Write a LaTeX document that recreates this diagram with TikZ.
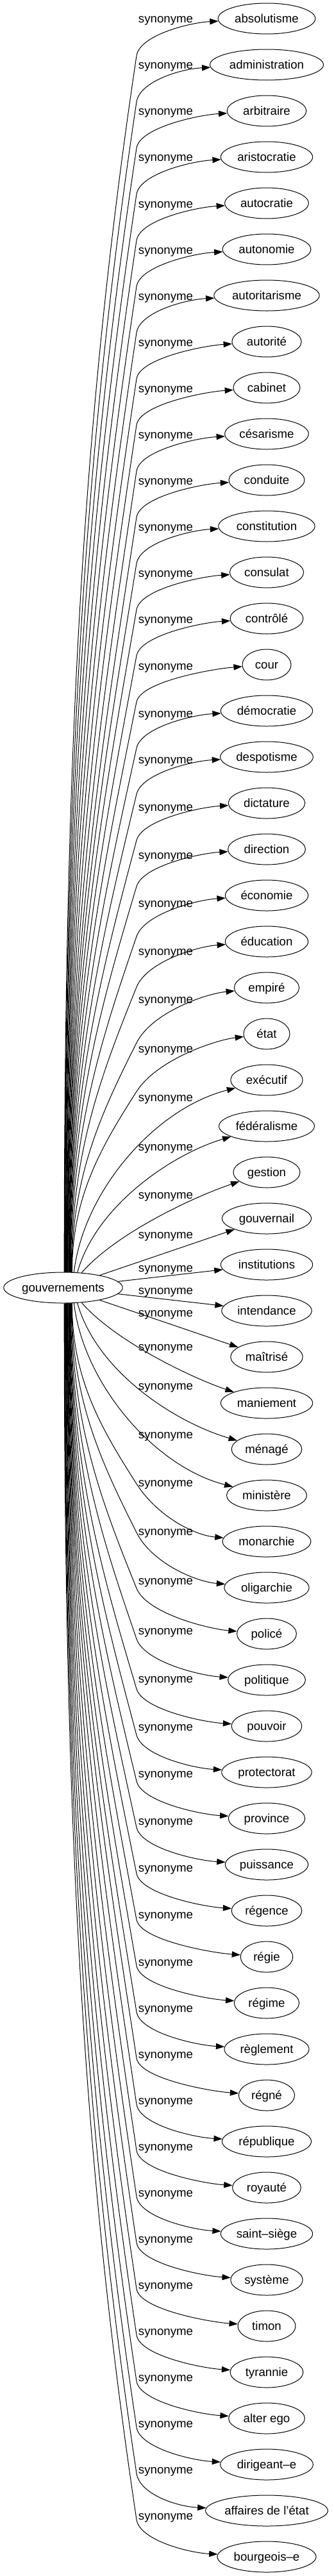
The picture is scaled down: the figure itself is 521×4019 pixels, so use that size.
\documentclass[tikz,border=0pt]{standalone}
\usepackage{fontspec}
\setmainfont{Liberation Sans}
\newfontfamily\gvserif{Liberation Serif}
\usetikzlibrary{shapes.geometric,arrows.meta,calc}
\newlength\gvlen
\newcommand\gvt[1]{\settowidth\gvlen{\gvserif #1}\makebox[0.957\gvlen][c]{#1}}
\tikzset{
  gvnode/.style={draw, ellipse, line width=0.75pt, font=\fontsize{14}{16}\selectfont,
    inner xsep=8.24pt, inner ysep=0pt, minimum width=54pt, minimum height=36pt,
    text height=9.5pt, text depth=0.5pt},
  gvlab/.style={font=\fontsize{14}{16}\selectfont, inner sep=0pt, text height=9.5pt, text depth=0.5pt},
  gvedge/.style={draw, line width=0.75pt, -{Triangle[length=10pt,width=7pt]}}
}
\begin{document}
\begin{tikzpicture}[x=0.75pt,y=-0.75pt]
\useasboundingbox (0,0) rectangle (521,4019);
\node[gvnode] (g) at (98.5,2009) {\gvt{gouvernements}};
\foreach \i/\nm in {1/absolutisme,2/administration,3/arbitraire,4/aristocratie,5/autocratie,
  6/autonomie,7/autoritarisme,8/autorité,9/cabinet,10/césarisme,11/conduite,12/constitution,
  13/consulat,14/contrôlé,15/cour,16/démocratie,17/despotisme,18/dictature,19/direction,
  20/économie,21/éducation,22/empiré,23/état,24/exécutif,25/fédéralisme,26/gestion,
  27/gouvernail,28/institutions,29/intendance,30/maîtrisé,31/maniement,32/ménagé,
  33/ministère,34/monarchie,35/oligarchie,36/policé,37/politique,38/pouvoir,39/protectorat,
  40/province,41/puissance,42/régence,43/régie,44/régime,45/règlement,46/régné,
  47/république,48/royauté,49/saint–siège,50/système,51/timon,52/tyrannie,53/alter ego,
  54/dirigeant–e,55/affaires de l'état,56/bourgeois–e}{
  \node[gvnode] (n\i) at (416,{29+72*(\i-1)}) {\gvt{\nm}};
}
\foreach \i/\o in {1/0,2/0,3/0,4/0,5/1.5,6/1.5,7/1.5,8/1.5,9/1.5,10/1.5,11/1.5,12/1.5,13/1.5,
  14/1.5,15/2,16/4,17/4,18/6,19/9,20/12,21/15,22/18,23/23,24/27,25/32,26/35,27/25,28/5,
  29/-32,30/-69,31/-88,32/-99,33/-95,34/-92,35/-88,36/-83,37/-77,38/-74,39/-71,40/-70,
  41/-68,42/-67,43/-66,44/-64,45/-64,46/-64,47/-64,48/-64,49/-64,50/-64,51/-64,52/-64,
  53/-64,54/-64,55/-64,56/-64}{
  \node[gvlab] (l\i) at (258.5,{29+72*(\i-1)+\o}) {synonyme};
}
\foreach \i in {1,...,56}{%
  \pgfmathsetmacro\yy{29+72*(\i-1)}%
  \pgfmathsetmacro\sg{(\yy<2009) ? -1 : 1}%
  \pgfmathsetmacro\ad{abs(\yy-2009)}%
  \ifdim\ad pt<120pt
    \draw[gvedge] (g) -- (n\i);
  \else
    \ifdim\ad pt<350pt
      \pgfmathsetmacro\ex{(\ad<200) ? 127 : ((\ad<280) ? 120 : 115)}%
      \pgfmathsetmacro\ax{(\ad<200) ? 180 : ((\ad<280) ? 150 : 130)}%
      \pgfmathsetmacro\av{(\ad<200) ? 84 : ((\ad<280) ? 129 : 149)}%
      \pgfmathsetmacro\bx{(\ad<200) ? 300 : ((\ad<280) ? 270 : 240)}%
      \pgfmathsetmacro\bv{(\ad<200) ? 141 : ((\ad<280) ? 209 : 279)}%
      \pgfmathsetmacro\Ya{2009+(\sg)*(\av)}%
      \pgfmathsetmacro\Yb{2009+(\sg)*(\bv)}%
      \pgfmathsetmacro\dx{\ex-98.5}%
      \pgfmathsetmacro\vy{24*sqrt(1-(\dx/93.5)^2)}%
      \pgfmathtruncatemacro\ang{round((0-\sg)*atan2(\vy,\dx))}%
      \draw[gvedge] (g.\ang) .. controls (\ax,\Ya) and (\bx,\Yb) .. (n\i);
    \else
      \pgfmathsetmacro\be{(\ad>=684) ? 58 : ((\ad>=612) ? 64 : ((\ad>=540) ? 71 : ((\ad>=468) ? 86 : 90)))}%
      \pgfmathsetmacro\vB{\ad-\be}%
      \pgfmathsetmacro\DD{\vB-24}%
      \pgfmathsetmacro\mm{max(0.15,180/\DD)}%
      \pgfmathsetmacro\ex{100+(1980-\ad)/132}%
      \pgfmathsetmacro\Ya{2009+(\sg)*(24+0.42*\DD)}%
      \pgfmathsetmacro\Xb{213-\mm*0.3*\DD}%
      \pgfmathsetmacro\Yb{2009+(\sg)*(\vB-0.3*\DD)}%
      \pgfmathsetmacro\YB{2009+(\sg)*\vB}%
      \pgfmathsetmacro\Xc{213+\mm*0.55*\be}%
      \pgfmathsetmacro\Yc{2009+(\sg)*(\vB+0.55*\be)}%
      \pgfmathsetmacro\Yd{2009+(\sg)*(\ad-0.11*\be)}%
      \pgfmathsetmacro\dx{\ex-98.5}%
      \pgfmathsetmacro\vy{24*sqrt(1-(\dx/93.5)^2)}%
      \pgfmathtruncatemacro\ang{round((0-\sg)*atan2(\vy,\dx))}%
      \draw[gvedge] (g.\ang) .. controls (\ex,\Ya) and (\Xb,\Yb) .. (213,\YB)
        .. controls (\Xc,\Yc) and ($(n\i.west |- 0,\Yd)+(-45,0)$) .. (n\i);
    \fi
  \fi
}
\end{tikzpicture}
\end{document}
